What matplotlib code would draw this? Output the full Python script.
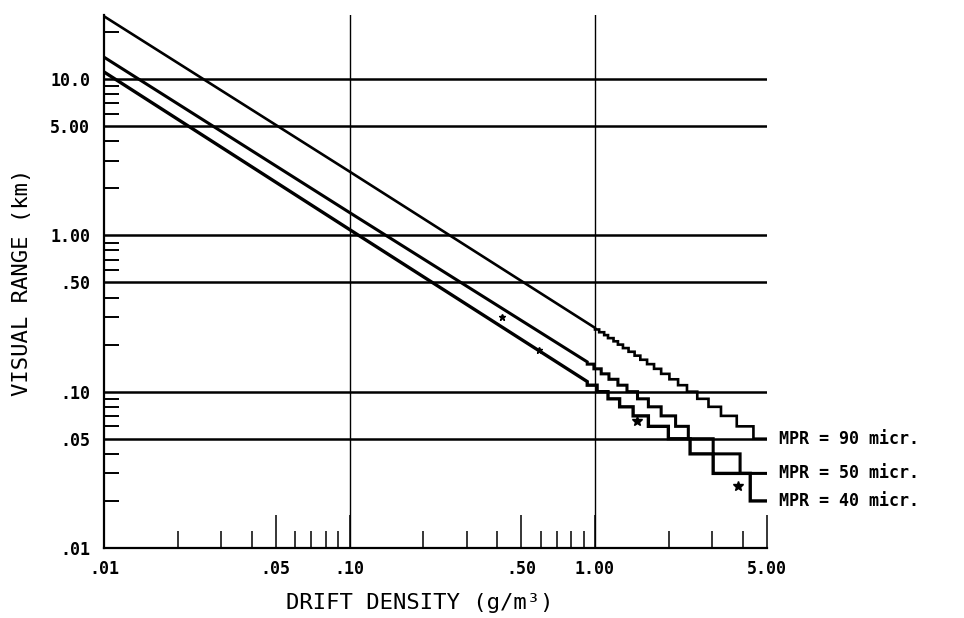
import matplotlib
matplotlib.use('Agg')
import matplotlib.pyplot as plt
import matplotlib.ticker as mticker

# Straight (log-log) part of each curve: drift density (g/m3), visual range (km)
dens_90 = [0.01, 0.10, 1.00]
vis_90  = [25.2, 2.56, 0.256]
dens_50 = [0.01, 0.10, 0.93]
vis_50  = [13.8, 1.40, 0.155]
dens_40 = [0.01, 0.10, 0.93]
vis_40  = [11.1, 1.09, 0.116]

# Stepped tail: range is printed in 0.01 km steps, density where each step starts
step_dens_90 = [1.00, 1.04, 1.09, 1.13, 1.19, 1.24, 1.30, 1.37, 1.45, 1.53, 1.63,
                1.74, 1.86, 2.01, 2.18, 2.37, 2.61, 2.90, 3.26, 3.78, 4.42]
step_vis_90  = [0.25, 0.24, 0.23, 0.22, 0.21, 0.20, 0.19, 0.18, 0.17, 0.16, 0.15,
                0.14, 0.13, 0.12, 0.11, 0.10, 0.09, 0.08, 0.07, 0.06, 0.05]
step_dens_50 = [0.93, 0.99, 1.06, 1.14, 1.24, 1.35, 1.49, 1.65, 1.86, 2.13, 2.40,
                3.03, 3.90]
step_vis_50  = [0.15, 0.14, 0.13, 0.12, 0.11, 0.10, 0.09, 0.08, 0.07, 0.06, 0.05,
                0.04, 0.03]
step_dens_40 = [0.93, 1.02, 1.13, 1.26, 1.43, 1.65, 1.99, 2.44, 3.03, 4.29]
step_vis_40  = [0.11, 0.10, 0.09, 0.08, 0.07, 0.06, 0.05, 0.04, 0.03, 0.02]

curve_labels = ['MPR = 90 micr.', 'MPR = 50 micr.', 'MPR = 40 micr.']

# Loose asterisk marks on the plot (two faint ones, two clear ones)
obs_dens = [0.42, 0.59, 1.48, 3.84]
obs_vis  = [0.30, 0.185, 0.065, 0.025]
obs_size = [5, 5, 7, 7]

x_ticks = [0.01, 0.05, 0.10, 0.50, 1.00, 5.00]
x_ticklabels = ['.01', '.05', '.10', '.50', '1.00', '5.00']
y_ticks = [0.01, 0.05, 0.10, 0.50, 1.00, 5.00, 10.0]
y_ticklabels = ['.01', '.05', '.10', '.50', '1.00', '5.00', '10.0']
h_grid = [0.05, 0.10, 0.50, 1.00, 5.00, 10.0]
v_grid = [0.10, 1.00]
x_lim = (0.01, 5.0)
y_lim = (0.01, 25.7)

FONT = 'DejaVu Sans Mono'


def stepVertices(xs, levels, x_end):
   """Return the corner points of a staircase that holds each level
      from its start density to the next one (the last runs to x_end)."""
   edges = list(xs) + [x_end]
   vx, vy = [], []
   for i, lev in enumerate(levels):
      vx += [edges[i], edges[i + 1]]
      vy += [lev, lev]
   return vx, vy


fig = plt.figure(figsize=(9.64, 6.18), dpi=100)
ax = fig.add_axes([0.1079, 0.1133, 0.6873, 0.8625])
ax.set_xscale('log')
ax.set_yscale('log')
ax.set_xlim(*x_lim)
ax.set_ylim(*y_lim)

# Grid lines
for yv in h_grid:
   ax.axhline(yv, color='black', lw=1.8, zorder=1)
for xv in v_grid:
   ax.axvline(xv, color='black', lw=1.0, zorder=1)

# The three curves
curves = [(dens_90, vis_90, step_dens_90, step_vis_90, 1.9),
          (dens_50, vis_50, step_dens_50, step_vis_50, 2.2),
          (dens_40, vis_40, step_dens_40, step_vis_40, 2.4)]
ends = []
for dens, vis, sdens, svis, lw in curves:
   vx, vy = stepVertices(sdens, svis, x_lim[1])
   ax.plot(dens + vx, vis + vy, color='black', lw=lw, zorder=3,
           solid_joinstyle='miter')
   ends.append(vy[-1])

for xv, yv, ms in zip(obs_dens, obs_vis, obs_size):
   ax.plot([xv], [yv], linestyle='none', marker='*', ms=ms, color='black', zorder=4)

for label, yv in zip(curve_labels, ends):
   ax.annotate(label, xy=(x_lim[1], yv), xytext=(9, 0), textcoords='offset points',
               ha='left', va='center', fontsize=12, fontweight='bold',
               family=FONT, annotation_clip=False)

# Axes, ticks and labels
ax.spines['top'].set_visible(False)
ax.spines['right'].set_visible(False)
ax.spines['left'].set_linewidth(1.6)
ax.spines['bottom'].set_linewidth(1.6)

ax.xaxis.set_major_locator(mticker.FixedLocator(x_ticks))
ax.xaxis.set_major_formatter(mticker.FixedFormatter(x_ticklabels))
ax.xaxis.set_minor_locator(mticker.LogLocator(base=10, subs=(2, 3, 4, 6, 7, 8, 9)))
ax.xaxis.set_minor_formatter(mticker.NullFormatter())
ax.yaxis.set_major_locator(mticker.FixedLocator(y_ticks))
ax.yaxis.set_major_formatter(mticker.FixedFormatter(y_ticklabels))
ax.yaxis.set_minor_locator(mticker.LogLocator(base=10, subs=(2, 3, 4, 6, 7, 8, 9)))
ax.yaxis.set_minor_formatter(mticker.NullFormatter())

ax.tick_params(axis='x', which='major', direction='in', length=24, width=1.1, pad=9)
ax.tick_params(axis='x', which='minor', direction='in', length=12, width=1.1)
ax.tick_params(axis='y', which='major', direction='in', length=0, pad=10)
ax.tick_params(axis='y', which='minor', direction='in', length=11, width=1.4)
for lab in ax.get_xticklabels() + ax.get_yticklabels():
   lab.set_family(FONT)
   lab.set_fontsize(12)
   lab.set_fontweight('bold')

fig.text(0.435, 1 - 603 / 618, 'DRIFT DENSITY (g/m³)', ha='center',
         va='center', fontsize=16, family=FONT)
fig.text(22 / 964, 1 - 282 / 618, 'VISUAL RANGE (km)', ha='center', va='center',
         rotation=90, fontsize=16, family=FONT)

plt.savefig('out.png', dpi=100)
